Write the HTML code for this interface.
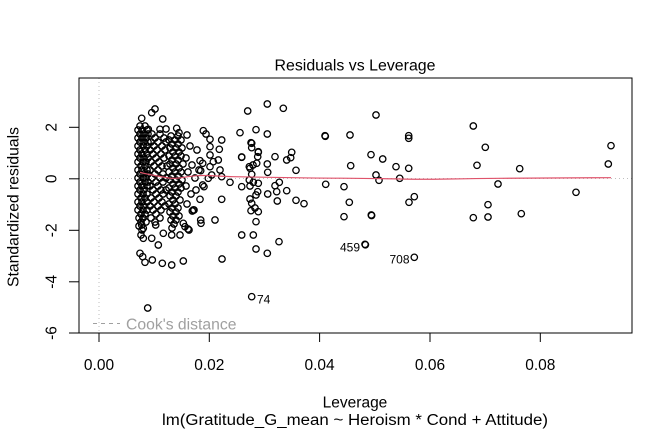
<!DOCTYPE html>
<html><head><meta charset="utf-8"><style>
html,body{margin:0;padding:0;background:#fff;}
svg{display:block;}
text{font-family:"Liberation Sans",Arial,sans-serif;}
</style></head><body>
<svg width="672" height="432" viewBox="0 0 672 432" xmlns="http://www.w3.org/2000/svg">
<rect width="672" height="432" fill="#fff"/>
<line x1="79" y1="178.5" x2="632" y2="178.5" stroke="#bebebe" stroke-width="1" stroke-dasharray="1,3"/>
<line x1="99" y1="78" x2="99" y2="333" stroke="#bebebe" stroke-width="1" stroke-dasharray="1,3"/>
<g fill="none" stroke="#000" stroke-width="1.3">
<circle cx="141.7" cy="118.3" r="3.2"/><circle cx="151.7" cy="112.7" r="3.2"/><circle cx="155" cy="109" r="3.2"/><circle cx="162.7" cy="119" r="3.2"/><circle cx="148.3" cy="129.3" r="3.2"/><circle cx="160" cy="129.3" r="3.2"/><circle cx="166" cy="129" r="3.2"/><circle cx="176.7" cy="128.3" r="3.2"/><circle cx="179" cy="132.7" r="3.2"/>
<circle cx="140" cy="126" r="3.2"/><circle cx="145" cy="126" r="3.2"/>
<circle cx="138" cy="130" r="3.2"/><circle cx="142" cy="130" r="3.2"/><circle cx="147" cy="130" r="3.2"/>
<circle cx="140" cy="134" r="3.2"/><circle cx="144" cy="134" r="3.2"/><circle cx="148" cy="134" r="3.2"/>
<circle cx="138" cy="138" r="3.2"/><circle cx="142" cy="138" r="3.2"/><circle cx="146" cy="138" r="3.2"/>
<circle cx="140" cy="142" r="3.2"/><circle cx="144" cy="142" r="3.2"/><circle cx="148" cy="142" r="3.2"/>
<circle cx="138" cy="146" r="3.2"/><circle cx="143" cy="146" r="3.2"/><circle cx="147" cy="146" r="3.2"/>
<circle cx="140" cy="150" r="3.2"/><circle cx="145" cy="150" r="3.2"/>
<circle cx="138" cy="154" r="3.2"/><circle cx="142" cy="154" r="3.2"/><circle cx="147" cy="154" r="3.2"/>
<circle cx="140" cy="158" r="3.2"/><circle cx="144" cy="158" r="3.2"/><circle cx="148" cy="158" r="3.2"/>
<circle cx="138" cy="162" r="3.2"/><circle cx="143" cy="162" r="3.2"/><circle cx="146" cy="162" r="3.2"/>
<circle cx="141" cy="166" r="3.2"/><circle cx="145" cy="166" r="3.2"/>
<circle cx="138" cy="170" r="3.2"/><circle cx="142" cy="170" r="3.2"/><circle cx="147" cy="170" r="3.2"/>
<circle cx="140" cy="174" r="3.2"/><circle cx="144" cy="174" r="3.2"/><circle cx="148" cy="174" r="3.2"/>
<circle cx="138" cy="178" r="3.2"/><circle cx="143" cy="178" r="3.2"/><circle cx="146" cy="178" r="3.2"/>
<circle cx="140" cy="182" r="3.2"/><circle cx="145" cy="182" r="3.2"/><circle cx="148" cy="182" r="3.2"/>
<circle cx="138" cy="186" r="3.2"/><circle cx="142" cy="186" r="3.2"/><circle cx="147" cy="186" r="3.2"/>
<circle cx="140" cy="190" r="3.2"/><circle cx="144" cy="190" r="3.2"/>
<circle cx="138" cy="194" r="3.2"/><circle cx="143" cy="194" r="3.2"/><circle cx="147" cy="194" r="3.2"/>
<circle cx="141" cy="198" r="3.2"/><circle cx="145" cy="198" r="3.2"/>
<circle cx="138" cy="202" r="3.2"/><circle cx="142" cy="202" r="3.2"/><circle cx="147" cy="202" r="3.2"/>
<circle cx="140" cy="206" r="3.2"/><circle cx="144" cy="206" r="3.2"/>
<circle cx="138" cy="210" r="3.2"/><circle cx="143" cy="210" r="3.2"/><circle cx="147" cy="210" r="3.2"/>
<circle cx="141" cy="214" r="3.2"/><circle cx="145" cy="214" r="3.2"/>
<circle cx="139" cy="218" r="3.2"/><circle cx="143" cy="218" r="3.2"/>
<circle cx="141" cy="222" r="3.2"/><circle cx="146" cy="222" r="3.2"/>
<circle cx="139" cy="226" r="3.2"/><circle cx="142" cy="230" r="3.2"/>
<circle cx="152" cy="134" r="3.2"/><circle cx="160" cy="134" r="3.2"/>
<circle cx="155" cy="138" r="3.2"/><circle cx="164" cy="138" r="3.2"/>
<circle cx="151" cy="142" r="3.2"/><circle cx="158" cy="142" r="3.2"/><circle cx="166" cy="142" r="3.2"/>
<circle cx="154" cy="146" r="3.2"/><circle cx="162" cy="146" r="3.2"/>
<circle cx="150" cy="150" r="3.2"/><circle cx="157" cy="150" r="3.2"/><circle cx="165" cy="150" r="3.2"/>
<circle cx="153" cy="154" r="3.2"/><circle cx="161" cy="154" r="3.2"/>
<circle cx="156" cy="158" r="3.2"/><circle cx="164" cy="158" r="3.2"/>
<circle cx="151" cy="162" r="3.2"/><circle cx="159" cy="162" r="3.2"/>
<circle cx="154" cy="166" r="3.2"/><circle cx="162" cy="166" r="3.2"/><circle cx="167" cy="166" r="3.2"/>
<circle cx="150" cy="170" r="3.2"/><circle cx="158" cy="170" r="3.2"/>
<circle cx="155" cy="174" r="3.2"/><circle cx="163" cy="174" r="3.2"/>
<circle cx="152" cy="178" r="3.2"/><circle cx="160" cy="178" r="3.2"/><circle cx="166" cy="178" r="3.2"/>
<circle cx="156" cy="182" r="3.2"/><circle cx="163" cy="182" r="3.2"/>
<circle cx="150" cy="186" r="3.2"/><circle cx="158" cy="186" r="3.2"/>
<circle cx="153" cy="190" r="3.2"/><circle cx="161" cy="190" r="3.2"/><circle cx="166" cy="190" r="3.2"/>
<circle cx="156" cy="194" r="3.2"/><circle cx="163" cy="194" r="3.2"/>
<circle cx="151" cy="198" r="3.2"/><circle cx="159" cy="198" r="3.2"/>
<circle cx="154" cy="202" r="3.2"/><circle cx="162" cy="202" r="3.2"/>
<circle cx="150" cy="206" r="3.2"/><circle cx="158" cy="206" r="3.2"/><circle cx="165" cy="206" r="3.2"/>
<circle cx="153" cy="210" r="3.2"/><circle cx="161" cy="210" r="3.2"/>
<circle cx="156" cy="214" r="3.2"/>
<circle cx="151" cy="218" r="3.2"/><circle cx="160" cy="218" r="3.2"/>
<circle cx="155" cy="222" r="3.2"/>
<circle cx="171" cy="136" r="3.2"/><circle cx="178" cy="136" r="3.2"/>
<circle cx="169" cy="140" r="3.2"/><circle cx="175" cy="140" r="3.2"/><circle cx="181" cy="140" r="3.2"/>
<circle cx="172" cy="144" r="3.2"/><circle cx="178" cy="144" r="3.2"/>
<circle cx="170" cy="148" r="3.2"/><circle cx="176" cy="148" r="3.2"/><circle cx="182" cy="148" r="3.2"/>
<circle cx="173" cy="152" r="3.2"/><circle cx="179" cy="152" r="3.2"/>
<circle cx="169" cy="156" r="3.2"/><circle cx="175" cy="156" r="3.2"/><circle cx="181" cy="156" r="3.2"/>
<circle cx="172" cy="160" r="3.2"/><circle cx="178" cy="160" r="3.2"/>
<circle cx="170" cy="164" r="3.2"/><circle cx="176" cy="164" r="3.2"/><circle cx="183" cy="164" r="3.2"/>
<circle cx="173" cy="168" r="3.2"/><circle cx="179" cy="168" r="3.2"/>
<circle cx="169" cy="172" r="3.2"/><circle cx="175" cy="172" r="3.2"/><circle cx="181" cy="172" r="3.2"/>
<circle cx="172" cy="176" r="3.2"/><circle cx="178" cy="176" r="3.2"/>
<circle cx="170" cy="180" r="3.2"/><circle cx="176" cy="180" r="3.2"/><circle cx="182" cy="180" r="3.2"/>
<circle cx="173" cy="184" r="3.2"/><circle cx="179" cy="184" r="3.2"/>
<circle cx="169" cy="188" r="3.2"/><circle cx="175" cy="188" r="3.2"/><circle cx="181" cy="188" r="3.2"/>
<circle cx="172" cy="192" r="3.2"/><circle cx="178" cy="192" r="3.2"/>
<circle cx="170" cy="196" r="3.2"/><circle cx="176" cy="196" r="3.2"/>
<circle cx="173" cy="200" r="3.2"/><circle cx="180" cy="200" r="3.2"/>
<circle cx="169" cy="204" r="3.2"/><circle cx="175" cy="204" r="3.2"/>
<circle cx="172" cy="208" r="3.2"/><circle cx="178" cy="208" r="3.2"/>
<circle cx="170" cy="212" r="3.2"/><circle cx="176" cy="212" r="3.2"/>
<circle cx="173" cy="216" r="3.2"/><circle cx="179" cy="216" r="3.2"/>
<circle cx="171" cy="220" r="3.2"/><circle cx="176" cy="220" r="3.2"/>
<circle cx="174" cy="224" r="3.2"/><circle cx="172" cy="228" r="3.2"/>
<circle cx="187" cy="135" r="3.2"/><circle cx="190" cy="146" r="3.2"/><circle cx="186" cy="158" r="3.2"/><circle cx="192" cy="165" r="3.2"/><circle cx="188" cy="172" r="3.2"/><circle cx="195" cy="178" r="3.2"/><circle cx="186" cy="186" r="3.2"/><circle cx="191" cy="194" r="3.2"/><circle cx="187" cy="204" r="3.2"/><circle cx="194" cy="210" r="3.2"/><circle cx="188" cy="229" r="3.2"/><circle cx="185" cy="226.7" r="3.2"/><circle cx="192.3" cy="211" r="3.2"/><circle cx="197" cy="150" r="3.2"/><circle cx="199" cy="170" r="3.2"/><circle cx="196" cy="190" r="3.2"/>
<circle cx="203.3" cy="130.7" r="3.2"/><circle cx="206" cy="134" r="3.2"/><circle cx="210" cy="139.3" r="3.2"/><circle cx="221.7" cy="140" r="3.2"/><circle cx="210" cy="146.7" r="3.2"/><circle cx="219.3" cy="149.3" r="3.2"/><circle cx="210" cy="155" r="3.2"/><circle cx="200" cy="160.7" r="3.2"/><circle cx="202.7" cy="163.3" r="3.2"/><circle cx="213.3" cy="161.7" r="3.2"/><circle cx="210" cy="166.7" r="3.2"/><circle cx="220" cy="170" r="3.2"/><circle cx="200.7" cy="170.7" r="3.2"/><circle cx="211.7" cy="175" r="3.2"/><circle cx="221.7" cy="176.7" r="3.2"/><circle cx="204" cy="186.7" r="3.2"/><circle cx="200" cy="199.3" r="3.2"/><circle cx="221.7" cy="199.3" r="3.2"/><circle cx="202.7" cy="185" r="3.2"/><circle cx="193.3" cy="210" r="3.2"/><circle cx="200.7" cy="220" r="3.2"/><circle cx="201" cy="223.3" r="3.2"/><circle cx="215" cy="220" r="3.2"/><circle cx="208.3" cy="178.3" r="3.2"/><circle cx="218.3" cy="160" r="3.2"/>
<circle cx="247.7" cy="111" r="3.2"/><circle cx="267.3" cy="104" r="3.2"/><circle cx="283.3" cy="108.3" r="3.2"/><circle cx="240" cy="132.7" r="3.2"/><circle cx="256" cy="129.7" r="3.2"/><circle cx="267.3" cy="134" r="3.2"/><circle cx="251" cy="142.7" r="3.2"/><circle cx="251.7" cy="147.7" r="3.2"/><circle cx="241.7" cy="157" r="3.2"/><circle cx="258.3" cy="152.3" r="3.2"/><circle cx="257.7" cy="156.7" r="3.2"/><circle cx="275" cy="156.7" r="3.2"/><circle cx="291.7" cy="152.3" r="3.2"/><circle cx="290.7" cy="157.7" r="3.2"/><circle cx="286.7" cy="160" r="3.2"/><circle cx="256.7" cy="163.3" r="3.2"/><circle cx="267.3" cy="164" r="3.2"/><circle cx="296" cy="170.3" r="3.2"/><circle cx="250" cy="168.3" r="3.2"/><circle cx="251.7" cy="174.3" r="3.2"/><circle cx="267.7" cy="172.3" r="3.2"/><circle cx="230" cy="182.3" r="3.2"/><circle cx="241.7" cy="186.7" r="3.2"/><circle cx="249.3" cy="180" r="3.2"/><circle cx="253.3" cy="182.3" r="3.2"/><circle cx="258.3" cy="183.3" r="3.2"/><circle cx="275" cy="185.7" r="3.2"/><circle cx="279.3" cy="182.3" r="3.2"/><circle cx="276.7" cy="191.7" r="3.2"/><circle cx="286.7" cy="190.7" r="3.2"/><circle cx="257.7" cy="191.7" r="3.2"/><circle cx="256" cy="195" r="3.2"/><circle cx="267.7" cy="194" r="3.2"/><circle cx="277.3" cy="201" r="3.2"/><circle cx="296" cy="200.3" r="3.2"/><circle cx="304" cy="203.7" r="3.2"/><circle cx="250" cy="199" r="3.2"/><circle cx="251.7" cy="203.3" r="3.2"/><circle cx="251" cy="210.7" r="3.2"/><circle cx="258.3" cy="211.7" r="3.2"/><circle cx="256" cy="221.7" r="3.2"/><circle cx="241.7" cy="235" r="3.2"/><circle cx="253.3" cy="235" r="3.2"/><circle cx="279" cy="241.7" r="3.2"/><circle cx="256" cy="249" r="3.2"/><circle cx="267.3" cy="253.3" r="3.2"/><circle cx="251.7" cy="296.7" r="3.2"/><circle cx="251.7" cy="143.3" r="3.2"/><circle cx="258.3" cy="151.7" r="3.2"/><circle cx="253" cy="165" r="3.2"/><circle cx="250" cy="186" r="3.2"/><circle cx="255" cy="208" r="3.2"/><circle cx="241.7" cy="157.3" r="3.2"/><circle cx="249.3" cy="166.7" r="3.2"/>
<circle cx="140" cy="253.3" r="3.2"/><circle cx="142.7" cy="256.7" r="3.2"/><circle cx="145" cy="262.3" r="3.2"/><circle cx="152.3" cy="260" r="3.2"/><circle cx="162.3" cy="263.3" r="3.2"/><circle cx="171.7" cy="265" r="3.2"/><circle cx="183.3" cy="261" r="3.2"/><circle cx="222" cy="259" r="3.2"/><circle cx="141.7" cy="225" r="3.2"/><circle cx="143.3" cy="228.3" r="3.2"/><circle cx="141" cy="235" r="3.2"/><circle cx="143.3" cy="238.3" r="3.2"/><circle cx="151.7" cy="238.3" r="3.2"/><circle cx="158.3" cy="245" r="3.2"/><circle cx="155.7" cy="225" r="3.2"/><circle cx="163.3" cy="233.3" r="3.2"/><circle cx="171.7" cy="235" r="3.2"/><circle cx="180" cy="235" r="3.2"/><circle cx="189" cy="230" r="3.2"/><circle cx="183.3" cy="223.3" r="3.2"/><circle cx="147.7" cy="308" r="3.2"/>
<circle cx="325" cy="135.7" r="3.2"/><circle cx="325.3" cy="136.3" r="3.2"/><circle cx="325.7" cy="184.3" r="3.2"/><circle cx="344" cy="186.7" r="3.2"/><circle cx="349.3" cy="202.3" r="3.2"/><circle cx="344" cy="216.7" r="3.2"/><circle cx="350" cy="135" r="3.2"/><circle cx="350.7" cy="165.7" r="3.2"/><circle cx="371" cy="154.7" r="3.2"/><circle cx="376" cy="115" r="3.2"/><circle cx="382.7" cy="159" r="3.2"/><circle cx="376" cy="175" r="3.2"/><circle cx="379" cy="180.3" r="3.2"/><circle cx="371.3" cy="215" r="3.2"/><circle cx="371.6" cy="215.5" r="3.2"/><circle cx="365" cy="244.3" r="3.2"/><circle cx="365.4" cy="244.8" r="3.2"/><circle cx="396" cy="166.7" r="3.2"/><circle cx="399.7" cy="178.3" r="3.2"/><circle cx="408.7" cy="135.7" r="3.2"/><circle cx="408.7" cy="138.3" r="3.2"/><circle cx="408.7" cy="168.3" r="3.2"/><circle cx="414.3" cy="196.7" r="3.2"/><circle cx="409" cy="202.3" r="3.2"/><circle cx="414.3" cy="257.3" r="3.2"/><circle cx="473.3" cy="126" r="3.2"/><circle cx="485.3" cy="147.3" r="3.2"/><circle cx="477" cy="165.3" r="3.2"/><circle cx="498" cy="184" r="3.2"/><circle cx="488" cy="204.7" r="3.2"/><circle cx="473.3" cy="217.7" r="3.2"/><circle cx="488" cy="217" r="3.2"/><circle cx="519.7" cy="168.7" r="3.2"/><circle cx="521.3" cy="213.7" r="3.2"/><circle cx="576" cy="192.3" r="3.2"/><circle cx="611" cy="145.7" r="3.2"/><circle cx="608.3" cy="164" r="3.2"/>
</g>
<path d="M140,172.3 C148,174.5 155,175.5 163,177 S172,178.6 177,178.2 S188,176.4 197,175.7 S220,176.3 233,176.7 S260,177.3 300,177.8 S370,178.2 400,179 S440,178.8 500,178.3 S580,177.8 611,177.7" fill="none" stroke="#DF536B" stroke-width="1.2"/>
<text x="360" y="251.5" font-size="12" text-anchor="end" fill="#000">459</text>
<text x="409.5" y="263.5" font-size="12" text-anchor="end" fill="#000">708</text>
<text x="257" y="303.5" font-size="12" fill="#000">74</text>
<line x1="93" y1="323.5" x2="120" y2="323.5" stroke="#a0a0a0" stroke-width="1" stroke-dasharray="4,4"/>
<text x="126" y="329.3" font-size="15.5" fill="#a0a0a0" textLength="110.5" lengthAdjust="spacingAndGlyphs">Cook's distance</text>
<rect x="79" y="78" width="553" height="255" fill="none" stroke="#000" stroke-width="1"/>
<g stroke="#000" stroke-width="1">
<line x1="99" y1="333" x2="99" y2="342"/>
<line x1="209.3" y1="333" x2="209.3" y2="342"/>
<line x1="319.6" y1="333" x2="319.6" y2="342"/>
<line x1="430" y1="333" x2="430" y2="342"/>
<line x1="540.3" y1="333" x2="540.3" y2="342"/>
<line x1="79" y1="127.3" x2="69" y2="127.3"/>
<line x1="79" y1="178.8" x2="69" y2="178.8"/>
<line x1="79" y1="230.3" x2="69" y2="230.3"/>
<line x1="79" y1="281.8" x2="69" y2="281.8"/>
<line x1="79" y1="333" x2="69" y2="333"/>
</g>
<g font-size="15.5" fill="#000" text-anchor="middle">
<text x="99" y="370">0.00</text>
<text x="209.3" y="370">0.02</text>
<text x="319.6" y="370">0.04</text>
<text x="430" y="370">0.06</text>
<text x="540.3" y="370">0.08</text>
<text transform="translate(56.5,127.3) rotate(-90)">2</text>
<text transform="translate(56.5,178.8) rotate(-90)">0</text>
<text transform="translate(56.5,230.3) rotate(-90)">-2</text>
<text transform="translate(56.5,281.8) rotate(-90)">-4</text>
<text transform="translate(56.5,333) rotate(-90)">-6</text>
<text x="355" y="70.7" textLength="161" lengthAdjust="spacingAndGlyphs">Residuals vs Leverage</text>
<text x="355" y="407.7">Leverage</text>
<text x="355" y="425" textLength="386" lengthAdjust="spacingAndGlyphs">lm(Gratitude_G_mean ~ Heroism * Cond + Attitude)</text>
<text transform="translate(18.3,207) rotate(-90)" textLength="160" lengthAdjust="spacingAndGlyphs">Standardized residuals</text>
</g>
</svg>
</body></html>
